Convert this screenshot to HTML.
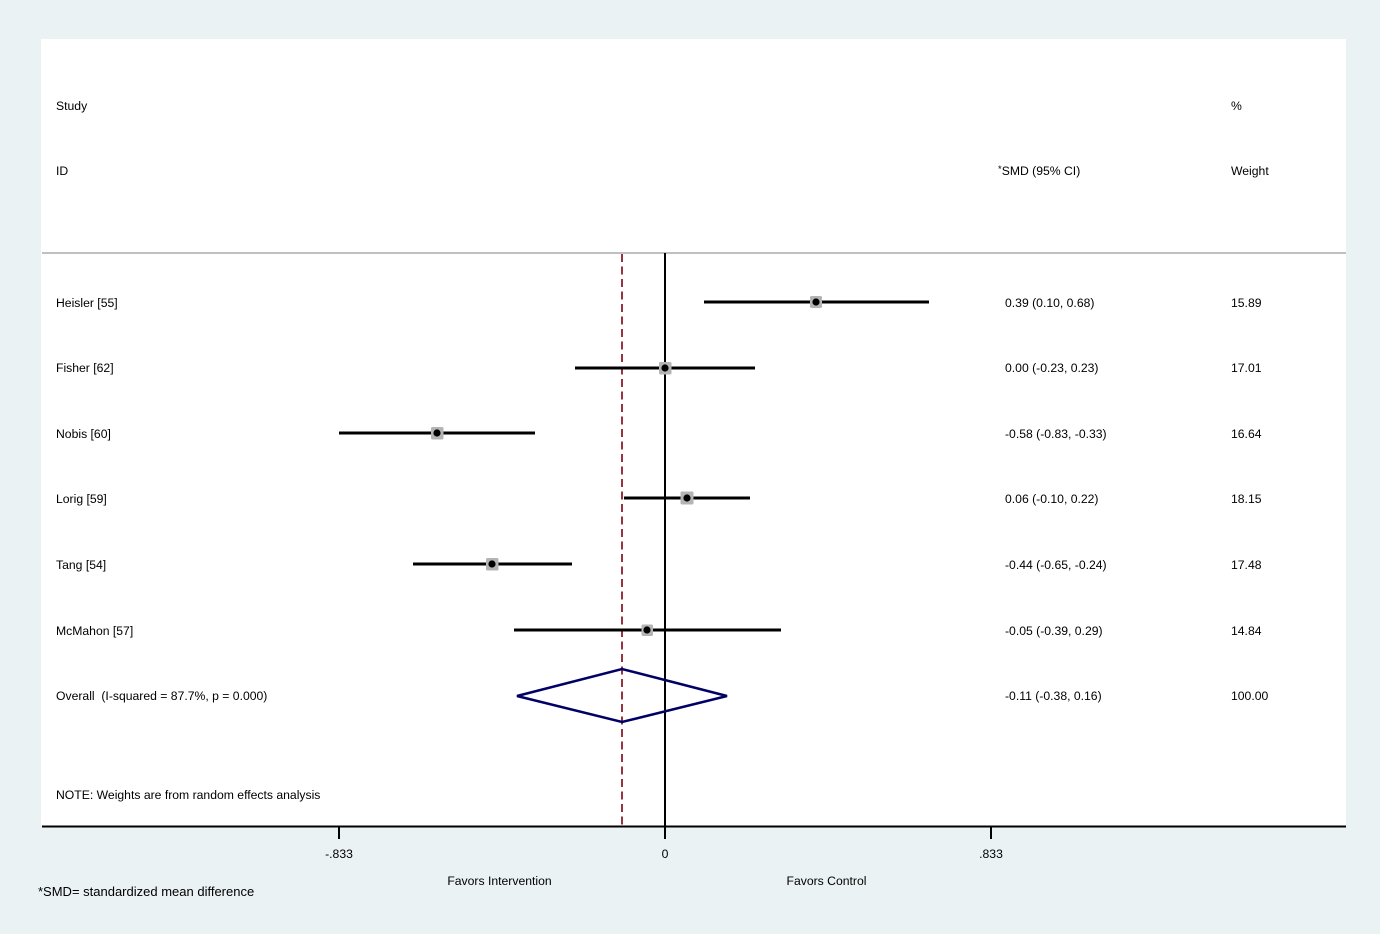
<!DOCTYPE html>
<html>
<head>
<meta charset="utf-8">
<style>
html,body{margin:0;padding:0;background:#eaf2f3;}
svg{display:block;}
text{font-family:"Liberation Sans",Arial,sans-serif;font-size:12.2px;fill:#000;}
</style>
</head>
<body>
<svg width="1380" height="934" viewBox="0 0 1380 934" xmlns="http://www.w3.org/2000/svg">
  <rect x="0" y="0" width="1380" height="934" fill="#eaf2f3"/>
  <rect x="41" y="39" width="1305" height="787" fill="#ffffff"/>

  <!-- header -->
  <text x="56" y="110">Study</text>
  <text x="56" y="175">ID</text>
  <text x="998" y="175"><tspan font-size="9.5" dy="-3">*</tspan><tspan dy="3">SMD (95% CI)</tspan></text>
  <text x="1231" y="110">%</text>
  <text x="1231" y="175">Weight</text>

  <!-- separator -->
  <line x1="42" y1="253" x2="1346" y2="253" stroke="#c0c0c0" stroke-width="2"/>

  <!-- reference lines -->
  <line x1="665" y1="253" x2="665" y2="826" stroke="#000" stroke-width="2"/>
  <line x1="622" y1="254" x2="622" y2="826" stroke="#993340" stroke-width="2" stroke-dasharray="8,4.5"/>

  <!-- study CIs -->
  <g stroke="#000" stroke-width="3">
    <line x1="704" y1="302" x2="929" y2="302"/>
    <line x1="575" y1="368" x2="755" y2="368"/>
    <line x1="339" y1="433" x2="535" y2="433"/>
    <line x1="624" y1="498" x2="750" y2="498"/>
    <line x1="413" y1="564" x2="572" y2="564"/>
    <line x1="514" y1="630" x2="781" y2="630"/>
  </g>
  <!-- weight squares -->
  <g fill="#b4b4b4">
    <rect x="810" y="296" width="12" height="12" rx="1.5"/>
    <rect x="659" y="362" width="12.5" height="12.5" rx="1.5"/>
    <rect x="431" y="427" width="12.5" height="12.5" rx="1.5"/>
    <rect x="680.5" y="491.5" width="13" height="13" rx="1.5"/>
    <rect x="486" y="558" width="12.5" height="12.5" rx="1.5"/>
    <rect x="641.5" y="624.5" width="11.5" height="11.5" rx="1.5"/>
  </g>
  <!-- point estimates -->
  <g fill="#000">
    <circle cx="816" cy="302" r="3.6"/>
    <circle cx="665" cy="368" r="3.6"/>
    <circle cx="437" cy="433" r="3.6"/>
    <circle cx="687" cy="498" r="3.6"/>
    <circle cx="492" cy="564" r="3.6"/>
    <circle cx="647" cy="630" r="3.6"/>
  </g>

  <!-- overall diamond -->
  <polygon points="517,696 622,669 727,696 622,722" fill="none" stroke="#000066" stroke-width="2.5"/>

  <!-- study labels -->
  <text x="56" y="307">Heisler [55]</text>
  <text x="56" y="372">Fisher [62]</text>
  <text x="56" y="438">Nobis [60]</text>
  <text x="56" y="503">Lorig [59]</text>
  <text x="56" y="569">Tang [54]</text>
  <text x="56" y="635">McMahon [57]</text>
  <text x="56" y="700">Overall&#160; (I-squared = 87.7%, p = 0.000)</text>
  <text x="56" y="799">NOTE: Weights are from random effects analysis</text>

  <!-- estimates -->
  <text x="1005" y="307">0.39 (0.10, 0.68)</text>
  <text x="1005" y="372">0.00 (-0.23, 0.23)</text>
  <text x="1005" y="438">-0.58 (-0.83, -0.33)</text>
  <text x="1005" y="503">0.06 (-0.10, 0.22)</text>
  <text x="1005" y="569">-0.44 (-0.65, -0.24)</text>
  <text x="1005" y="635">-0.05 (-0.39, 0.29)</text>
  <text x="1005" y="700">-0.11 (-0.38, 0.16)</text>

  <!-- weights -->
  <text x="1231" y="307">15.89</text>
  <text x="1231" y="372">17.01</text>
  <text x="1231" y="438">16.64</text>
  <text x="1231" y="503">18.15</text>
  <text x="1231" y="569">17.48</text>
  <text x="1231" y="635">14.84</text>
  <text x="1231" y="700">100.00</text>

  <!-- x axis -->
  <line x1="42" y1="826.5" x2="1346" y2="826.5" stroke="#000" stroke-width="2"/>
  <g stroke="#000" stroke-width="2">
    <line x1="339" y1="826" x2="339" y2="839"/>
    <line x1="665" y1="826" x2="665" y2="839"/>
    <line x1="991" y1="826" x2="991" y2="839"/>
  </g>
  <text x="339" y="858" text-anchor="middle">-.833</text>
  <text x="665" y="858" text-anchor="middle">0</text>
  <text x="991" y="858" text-anchor="middle">.833</text>
  <text x="499.5" y="885" text-anchor="middle">Favors Intervention</text>
  <text x="826.5" y="885" text-anchor="middle">Favors Control</text>

  <text x="38" y="896" style="font-size:13px">*SMD= standardized mean difference</text>
</svg>
</body>
</html>
